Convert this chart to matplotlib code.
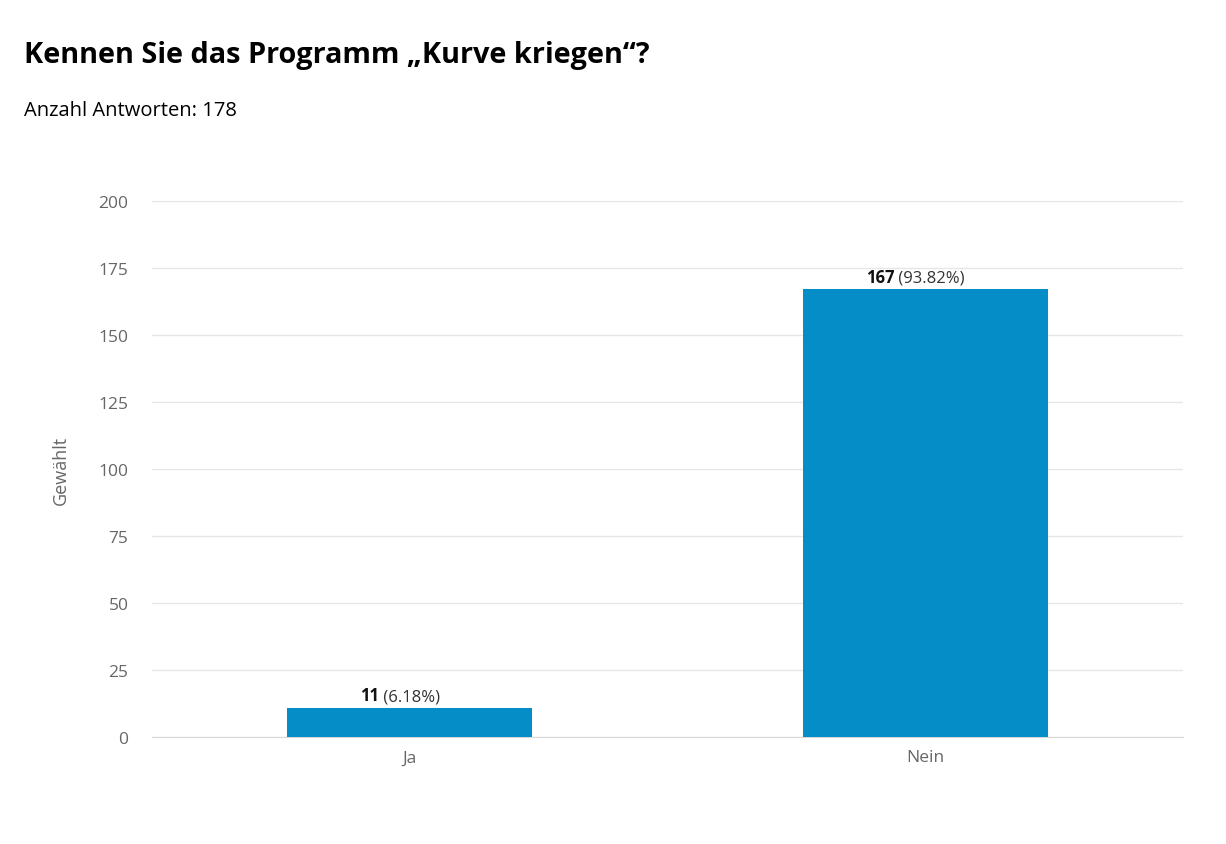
import matplotlib
matplotlib.use("Agg")
import matplotlib.pyplot as plt
from matplotlib.transforms import offset_copy

categories = ["Ja", "Nein"]
counts = [11, 167]
percents = [6.18, 93.82]
total = 178
yticks = [0, 25, 50, 75, 100, 125, 150, 175, 200]

plt.rcParams['font.family'] = ['Open Sans', 'DejaVu Sans']

fig = plt.figure(figsize=(12.26, 8.45), dpi=100)
ax = fig.add_axes([152/1226, 1-738/845, (1183-152)/1226, (738-202)/845])

x = list(range(len(categories)))
ax.bar(x, counts, width=0.475, color="#058DC7", zorder=3)
ax.set_xlim(-0.5, 1.5)
ax.set_ylim(0, 200)
ax.set_yticks(yticks)
ax.set_yticklabels([str(t) for t in yticks])
ax.set_xticks(x)
ax.set_xticklabels(categories)
ax.grid(axis='y', color="#e6e6e6", linewidth=1, zorder=0)
for s in ['top', 'right', 'left']:
    ax.spines[s].set_visible(False)
ax.spines['bottom'].set_color("#d8d8d8")
ax.tick_params(axis='both', length=0, labelsize=12.5, colors="#666666")
ax.tick_params(axis='y', pad=17)
ax.tick_params(axis='x', pad=9)
ax.set_ylabel("Gewählt", fontsize=13, color="#666666")
ax.yaxis.set_label_coords((70-152)/1031, 0.5)

labels = []
for xi, c, p in zip(x, counts, percents):
    t1 = ax.text(xi, c, f"{c}", ha='right', va='baseline', fontsize=12,
                 fontweight='bold', color="#111111")
    t2 = ax.text(xi, c, f" ({p:.2f}%)", ha='left', va='baseline', fontsize=12,
                 color="#333333")
    labels.append((t1, t2))

fig.canvas.draw()
r = fig.canvas.get_renderer()
for t1, t2 in labels:
    w1 = t1.get_window_extent(r).width
    w2 = t2.get_window_extent(r).width
    shift = (w1 - w2) / 2 - 10
    for t in (t1, t2):
        t.set_transform(offset_copy(ax.transData, fig=fig, x=shift, y=7.5, units='dots'))

fig.text(24/1226, 1-63/845, "Kennen Sie das Programm „Kurve kriegen“?", fontsize=20.8,
         fontweight='bold', color="#000000", va='baseline', ha='left')
fig.text(24/1226, 1-116/845, f"Anzahl Antworten: {total}", fontsize=14.5,
         color="#000000", va='baseline', ha='left')

fig.savefig("out.png", dpi=100, facecolor="white")
